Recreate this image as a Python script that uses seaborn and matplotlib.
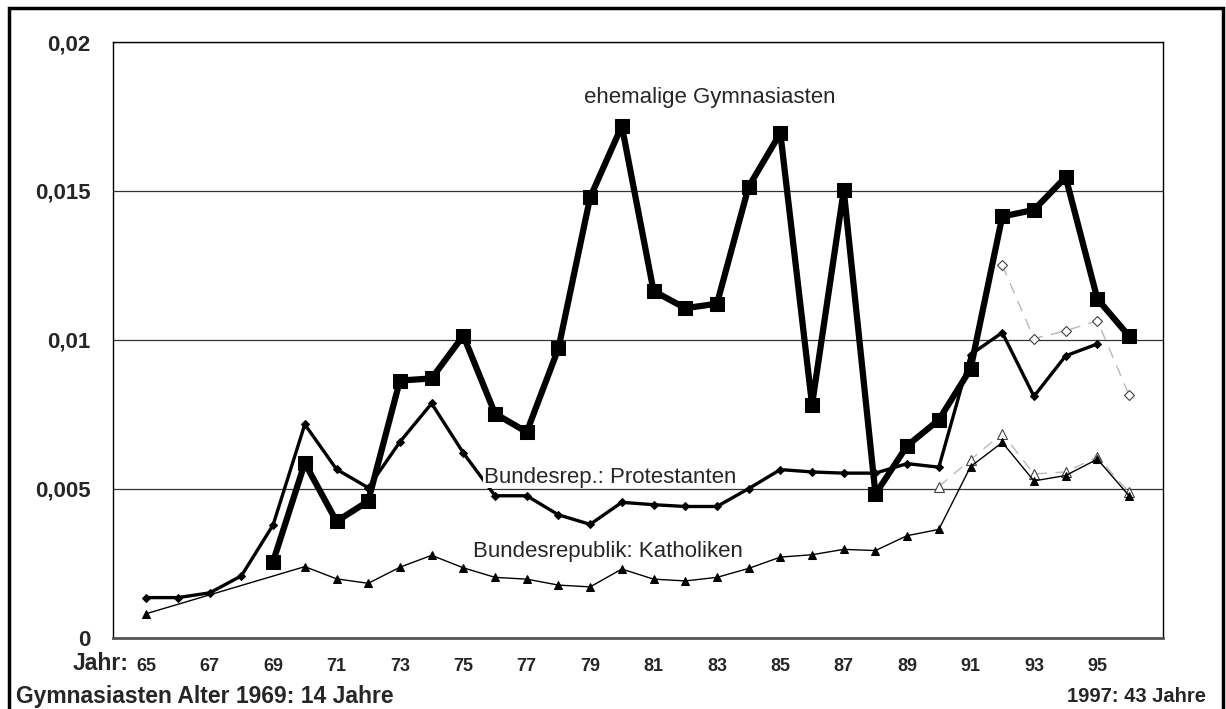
import matplotlib
matplotlib.use("Agg")
import matplotlib.pyplot as plt
import seaborn as sns
import numpy as np
import pandas as pd
from matplotlib.patches import Rectangle

nan = np.nan

# Jahre 1965 .. 1996 (zweistellig)
years = list(range(65, 97))

gymnasiasten = [nan, nan, nan, nan,
                0.00255, 0.00586, 0.00390, 0.00458, 0.00863, 0.00870, 0.01014, 0.00752,
                0.00690, 0.00971, 0.01478, 0.01718, 0.01164, 0.01106, 0.01121, 0.01514,
                0.01694, 0.00782, 0.01502, 0.00482, 0.00644, 0.00731, 0.00902, 0.01414,
                0.01436, 0.01546, 0.01137, 0.01012]

protestanten = [0.00134, 0.00134, 0.00150, 0.00207, 0.00378, 0.00716, 0.00565, 0.00503,
                0.00657, 0.00786, 0.00620, 0.00476, 0.00476, 0.00412, 0.00380, 0.00454,
                0.00446, 0.00440, 0.00440, 0.00500, 0.00564, 0.00556, 0.00552, 0.00552,
                0.00584, 0.00572, 0.00950, 0.01024, 0.00810, 0.00946, 0.00986, nan]

katholiken = [0.00080, nan, nan, nan, nan, 0.00238, 0.00197, 0.00182,
              0.00236, 0.00276, 0.00234, 0.00202, 0.00196, 0.00176, 0.00170, 0.00230,
              0.00196, 0.00190, 0.00202, 0.00232, 0.00270, 0.00278, 0.00296, 0.00292,
              0.00342, 0.00363, 0.00574, 0.00655, 0.00526, 0.00544, 0.00599, 0.00476]

# helle, gestrichelte Reihen (hohle Marker)
prot_hohl = [nan] * 27 + [0.01250, 0.01004, 0.01030, 0.01064, 0.00814]
kath_hohl = [nan] * 25 + [0.00507, 0.00597, 0.00685, 0.00549, 0.00556, 0.00606, 0.00488]

ytick_vals = [0, 0.005, 0.01, 0.015, 0.02]
ytick_labels = ["0", "0,005", "0,01", "0,015", "0,02"]
xtick_labels = [str(y) if y % 2 == 1 else "" for y in years]

df = pd.DataFrame({"Jahr": years, "gym": gymnasiasten, "prot": protestanten,
                   "kath": katholiken, "prot_h": prot_hohl, "kath_h": kath_hohl})

sns.set_style("white")
plt.rcParams["font.family"] = ["Liberation Sans", "DejaVu Sans"]

fig = plt.figure(figsize=(12.26, 7.09), dpi=100)
ax = fig.add_axes([113 / 1226, 1 - 637.5 / 709, (1163 - 113) / 1226, (637.5 - 42) / 709])


def draw(col, **kws):
    d = df[["Jahr", col]].dropna()
    sns.lineplot(data=d, x="Jahr", y=col, ax=ax, errorbar=None, **kws)
    return ax.lines[-1]


# graue Reihen zuerst
l = draw("kath_h", color="#b8b8b8", linewidth=1, marker="^", markersize=7,
         markerfacecolor="white", markeredgecolor="#404040", markeredgewidth=0.8)
l.set_dashes([8, 6])
l = draw("prot_h", color="#b8b8b8", linewidth=1, marker="D", markersize=5,
         markerfacecolor="white", markeredgecolor="#404040", markeredgewidth=0.8)
l.set_dashes([8, 6])

draw("kath", color="black", linewidth=1, marker="^", markersize=6,
     markerfacecolor="black", markeredgecolor="black")
draw("prot", color="black", linewidth=2.4, marker="D", markersize=4.5,
     markerfacecolor="black", markeredgecolor="black")
draw("gym", color="black", linewidth=4.5, marker="s", markersize=10,
     markerfacecolor="black", markeredgecolor="black")

ax.set_xlim(63.95, 97.07)
ax.set_ylim(0, 0.02)
ax.set_xticks(years)
ax.set_xticklabels(xtick_labels, fontsize=13, fontweight="bold")
ax.set_yticks(ytick_vals)
ax.set_yticklabels(ytick_labels, fontsize=16, fontweight="bold")
ax.tick_params(axis="x", direction="in", length=9, width=1, color="#404040", pad=15)
ax.tick_params(axis="y", length=0, pad=16)
ax.set_xlabel("")
ax.set_ylabel("")

ax.yaxis.grid(True, color="#333333", linewidth=0.9)
ax.xaxis.grid(False)
ax.set_axisbelow(True)
for side in ["top", "right", "left"]:
    ax.spines[side].set_color("black")
    ax.spines[side].set_linewidth(1)
ax.spines["bottom"].set_color("#555555")
ax.spines["bottom"].set_linewidth(2)

ax.text(78.8, 0.01815, "ehemalige Gymnasiasten", fontsize=16, va="center", ha="left")
ax.text(75.65, 0.00538, "Bundesrep.: Protestanten", fontsize=16, va="center", ha="left",
        bbox=dict(facecolor="white", edgecolor="none", pad=0.5), zorder=10)
ax.text(75.32, 0.0029, "Bundesrepublik: Katholiken", fontsize=16, va="center", ha="left")

fig.text(129 / 1226, 1 - 664 / 709, "Jahr:", fontsize=16.5, fontweight="bold",
         ha="right", va="center")
fig.text(16 / 1226, 1 - 697 / 709, "Gymnasiasten Alter 1969: 14 Jahre", fontsize=16.5,
         fontweight="bold", ha="left", va="center")
fig.text(1206 / 1226, 1 - 697 / 709, "1997: 43 Jahre", fontsize=14.5,
         fontweight="bold", ha="right", va="center")

fig.patches.append(Rectangle((9 / 1226, -0.05), (1223 - 9) / 1226, 1.05 + (1 - 8 / 709) - 1,
                             transform=fig.transFigure, fill=False, edgecolor="black",
                             linewidth=2.5, clip_on=False))

fig.savefig("out.png", dpi=100)
